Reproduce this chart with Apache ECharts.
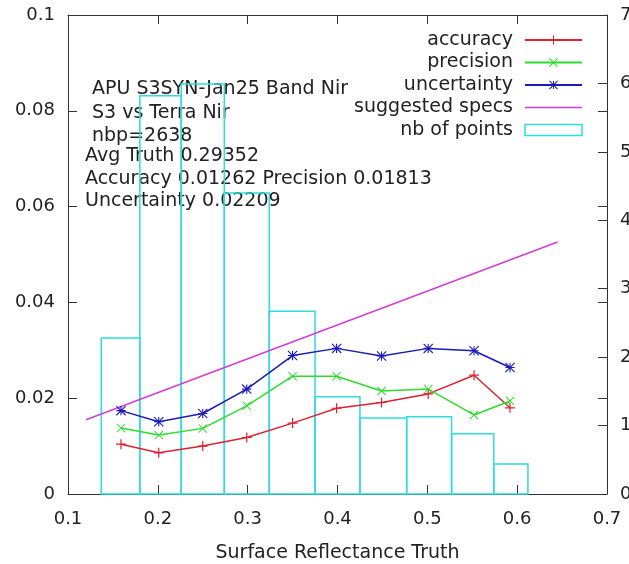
<!DOCTYPE html>
<html>
<head>
<meta charset="utf-8">
<script src="https://cdn.jsdelivr.net/npm/echarts@6/dist/echarts.min.js"></script>
<style>
  html, body { margin: 0; padding: 0; background: #fff; }
  #chart { width: 629px; height: 564px; }
</style>
</head>
<body>
<div id="chart"></div>
<script>
// Reflectance bins (truth values) and the error statistics per bin
const truthX      = [0.159, 0.201, 0.250, 0.299, 0.350, 0.399, 0.449, 0.501, 0.552, 0.592];
const accuracy    = [0.0104, 0.0086, 0.0100, 0.0118, 0.0148, 0.0179, 0.0191, 0.0209, 0.0248, 0.0180];
const precision   = [0.0138, 0.0123, 0.0137, 0.0184, 0.0246, 0.0246, 0.0215, 0.0219, 0.0165, 0.0194];
const uncertainty = [0.0174, 0.0151, 0.0168, 0.0219, 0.0289, 0.0304, 0.0288, 0.0304, 0.0299, 0.0264];

// Suggested specification line (end points)
const specX = [0.120, 0.645];
const specY = [0.0155, 0.0526];

// Histogram of matchups per bin (right axis)
const binEdges = [0.137, 0.180, 0.226, 0.274, 0.324, 0.375, 0.425, 0.477, 0.527, 0.574, 0.612];
const binCounts = [228, 582, 599, 440, 267, 142, 111, 113, 88, 44];

// Annotation text
const infoHeader = ['APU S3SYN-Jan25 Band Nir', 'S3 vs Terra Nir', 'nbp=2638'];
const infoStats = ['Avg Truth 0.29352', 'Accuracy 0.01262 Precision 0.01813', 'Uncertainty 0.02209'];

const FONT = 'DejaVu Sans';
const FS = 19;       // legend, annotation and axis title
const FS_TICK = 18;  // tick labels
const AXIS_COLOR = '#333';
const TEXT_COLOR = '#222';

const C_ACC = '#dc2232';
const C_PREC = '#2edc2e';
const C_UNC = '#1c1cb4';
const C_SPEC = '#d040d0';
const C_HIST = '#30dcdc';

// Marker shapes: plus, cross, and asterisk (plus + cross)
const PLUS = 'M-5,-0.6L5,-0.6L5,0.6L-5,0.6ZM-0.6,-5L0.6,-5L0.6,5L-0.6,5Z';
const CROSS = 'M-4.576,-5.424L5.424,4.576L4.576,5.424L-5.424,-4.576Z' +
              'M-4.576,5.424L-5.424,4.576L4.576,-5.424L5.424,-4.576Z';
const SYM_PLUS = 'path://' + PLUS;
const SYM_CROSS = 'path://' + CROSS;
const SYM_STAR = 'path://' + PLUS + CROSS;

const zip = (xs, ys) => xs.map((x, i) => [x, ys[i]]);
const histData = binCounts.map((c, i) => [binEdges[i], binEdges[i + 1], c]);

const textStyle = { fontFamily: FONT, fontSize: FS, color: TEXT_COLOR };
const tickStyle = { fontFamily: FONT, fontSize: FS_TICK, color: TEXT_COLOR };

function infoLines(lines, x, y0, step) {
  return lines.map((t, i) => ({
    type: 'text', left: x, top: y0 + i * step, z: 0,
    style: { text: t, font: FS + 'px "' + FONT + '"', fill: TEXT_COLOR }
  }));
}

const chart = echarts.init(document.getElementById('chart'), null, { renderer: 'canvas' });

const option = {
  animation: false,
  backgroundColor: '#fff',
  textStyle: { fontFamily: FONT },
  grid: { left: 68, right: 22, top: 15, bottom: 70, containLabel: false, outerBoundsMode: 'none' },
  legend: {
    orient: 'vertical', align: 'right', right: 46, top: 30, padding: 0,
    itemWidth: 57, itemHeight: 11, itemGap: 2.5,
    textStyle: { fontFamily: FONT, fontSize: FS, color: TEXT_COLOR, lineHeight: 20, padding: [0, 7, 0, 0] },
    data: [
      { name: 'accuracy' },
      { name: 'precision' },
      { name: 'uncertainty' },
      { name: 'suggested specs', icon: 'path://M0,0h57v1.5h-57z', itemStyle: { color: C_SPEC } },
      { name: 'nb of points', icon: 'rect',
        itemStyle: { color: 'rgba(0,0,0,0)', borderColor: C_HIST, borderWidth: 1.5 } }
    ]
  },
  xAxis: [
    {
      type: 'value', min: 0.1, max: 0.7, interval: 0.1, position: 'bottom',
      name: 'Surface Reflectance Truth', nameLocation: 'middle', nameGap: 50,
      nameTextStyle: textStyle,
      axisLine: { show: true, onZero: false, lineStyle: { color: AXIS_COLOR, width: 1 } },
      axisTick: { show: true, inside: true, length: 9, lineStyle: { color: AXIS_COLOR } },
      axisLabel: { ...tickStyle, margin: 16 },
      splitLine: { show: false }
    },
    {
      type: 'value', min: 0.1, max: 0.7, interval: 0.1, position: 'top',
      axisLine: { show: true, onZero: false, lineStyle: { color: AXIS_COLOR, width: 1 } },
      axisTick: { show: true, inside: true, length: 9, lineStyle: { color: AXIS_COLOR } },
      axisLabel: { show: false },
      splitLine: { show: false }
    }
  ],
  yAxis: [
    {
      type: 'value', min: 0, max: 0.1, interval: 0.02, position: 'left',
      axisLine: { show: true, onZero: false, lineStyle: { color: AXIS_COLOR, width: 1 } },
      axisTick: { show: true, inside: true, length: 9, lineStyle: { color: AXIS_COLOR } },
      axisLabel: { ...tickStyle, margin: 13 },
      splitLine: { show: false }
    },
    {
      type: 'value', min: 0, max: 700, interval: 100, position: 'right',
      axisLine: { show: true, onZero: false, lineStyle: { color: AXIS_COLOR, width: 1 } },
      axisTick: { show: true, inside: true, length: 9, lineStyle: { color: AXIS_COLOR } },
      axisLabel: { ...tickStyle, margin: 13 },
      splitLine: { show: false }
    },
    {
      type: 'value', min: 0, max: 0.1, interval: 0.02, position: 'right',
      axisLine: { show: false },
      axisTick: { show: true, inside: true, length: 9, lineStyle: { color: AXIS_COLOR } },
      axisLabel: { show: false },
      splitLine: { show: false }
    }
  ],
  graphic: [
    ...infoLines(infoHeader, 92, 80, 23.5),
    ...infoLines(infoStats, 85, 147, 22.5)
  ],
  series: [
    {
      name: 'nb of points', type: 'custom', xAxisIndex: 0, yAxisIndex: 1, z: 1,
      itemStyle: { color: 'rgba(0,0,0,0)', borderColor: C_HIST },
      encode: { x: [0, 1], y: 2 },
      data: histData,
      renderItem: (params, api) => {
        const p0 = api.coord([api.value(0), 0]);
        const p1 = api.coord([api.value(1), api.value(2)]);
        return {
          type: 'rect',
          shape: { x: p0[0], y: p1[1], width: p1[0] - p0[0], height: p0[1] - p1[1] },
          style: { fill: null, stroke: C_HIST, lineWidth: 1.5 }
        };
      }
    },
    {
      name: 'suggested specs', type: 'line', z: 3, symbol: 'none',
      data: zip(specX, specY),
      lineStyle: { color: C_SPEC, width: 1.5 }, itemStyle: { color: C_SPEC }
    },
    {
      name: 'accuracy', type: 'line', z: 4, symbol: SYM_PLUS, symbolSize: 10,
      data: zip(truthX, accuracy),
      lineStyle: { color: C_ACC, width: 1.5 }, itemStyle: { color: C_ACC }
    },
    {
      name: 'precision', type: 'line', z: 4, symbol: SYM_CROSS, symbolSize: 9,
      data: zip(truthX, precision),
      lineStyle: { color: C_PREC, width: 1.5 }, itemStyle: { color: C_PREC }
    },
    {
      name: 'uncertainty', type: 'line', z: 4, symbol: SYM_STAR, symbolSize: 10,
      data: zip(truthX, uncertainty),
      lineStyle: { color: C_UNC, width: 1.5 }, itemStyle: { color: C_UNC }
    }
  ]
};

chart.setOption(option);
</script>
</body>
</html>
